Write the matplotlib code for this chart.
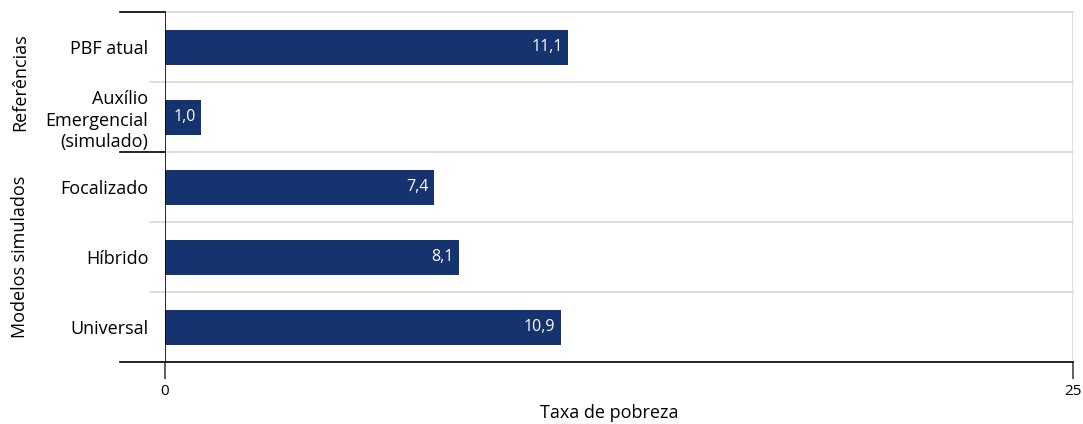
import matplotlib
matplotlib.use("Agg")
import matplotlib.pyplot as plt

categories = ["PBF atual", "Auxílio\nEmergencial\n(simulado)", "Focalizado", "Híbrido", "Universal"]
values = [11.1, 1.0, 7.4, 8.1, 10.9]
value_labels = ["11,1", "1,0", "7,4", "8,1", "10,9"]
groups = ["Referências", "Modelos simulados"]
group_sizes = [2, 3]
xticks = [0, 25]

plt.rcParams['font.family'] = ['Open Sans', 'DejaVu Sans']
navy = "#14336f"
grid_c = "#d9d9d9"

fig = plt.figure(figsize=(10.83, 4.24), dpi=100)
ax = fig.add_axes([165/1083, 62/424, 908/1083, 350/424])

ypos = list(range(len(categories)))
ax.barh(ypos, values, height=0.5, color=navy, zorder=3)
for y, v, lab in zip(ypos, values, value_labels):
    ax.text(v - 0.15, y, lab, color="white", ha="right", va="center", fontsize=11.5, zorder=4)

ax.set_xlim(0, 25)
ax.set_ylim(len(categories) - 0.5, -0.5)
ax.set_yticks(ypos)
ax.set_yticklabels(categories, fontsize=13, linespacing=1.25)
ax.tick_params(axis="y", length=0, pad=12)
ax.set_xticks(xticks)
ax.set_xticklabels([str(t) for t in xticks], fontsize=11)
ax.tick_params(axis="x", length=12, width=1.2, color="#444444", pad=4)
ax.set_xlabel("Taxa de pobreza", fontsize=13)
ax.xaxis.set_label_coords((609 - 165) / 908, -42 / 350)

for s in ["top", "right", "bottom", "left"]:
    ax.spines[s].set_visible(False)
ax.axvline(0, color="black", lw=1.2, zorder=5)
ax.axvline(25, color=grid_c, lw=1.2, zorder=1)

ytr = ax.get_yaxis_transform()
n = len(categories)
group_edges = [-0.5]
acc = -0.5
for g in group_sizes:
    acc += g
    group_edges.append(acc)

for i in range(n + 1):
    b = i - 0.5
    if b == n - 0.5:
        ax.plot([-45/908, 1], [b, b], transform=ytr, color="black", lw=1.2, clip_on=False, zorder=5)
    elif b in group_edges:
        ax.plot([0, 1], [b, b], transform=ytr, color=grid_c, lw=1.2, clip_on=False, zorder=1)
        ax.plot([-45/908, 0], [b, b], transform=ytr, color="black", lw=1.2, clip_on=False, zorder=5)
    else:
        ax.plot([-15/908, 1], [b, b], transform=ytr, color=grid_c, lw=1.2, clip_on=False, zorder=1)

for i, (g, k) in enumerate(zip(groups, group_sizes)):
    mid = (group_edges[i] + group_edges[i + 1]) / 2
    ax.text(-145/908, mid, g, transform=ytr, rotation=90, ha="center", va="center", fontsize=13)

fig.savefig("out.png", dpi=100)
